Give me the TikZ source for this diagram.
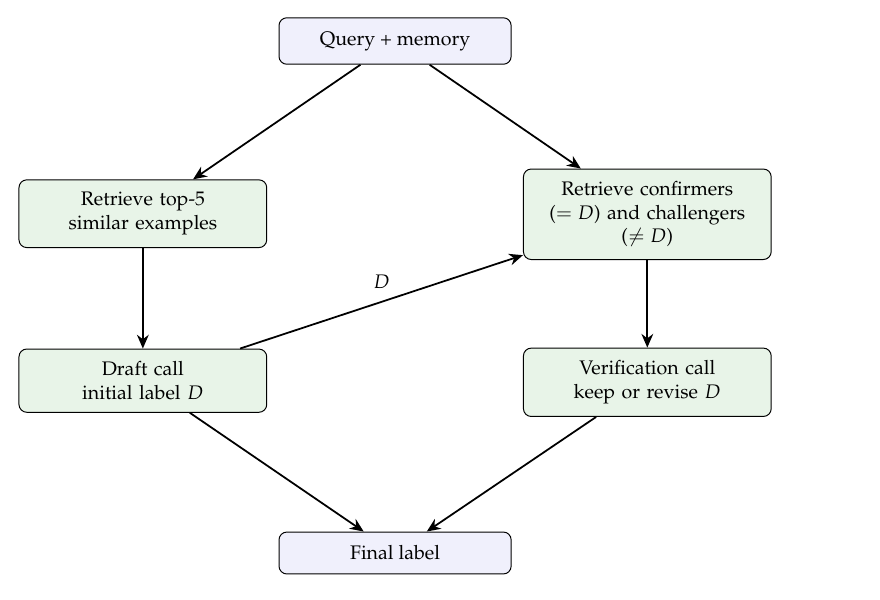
\documentclass[tikz,border=0pt]{standalone}
\usepackage[T1]{fontenc}
\usepackage{mathpazo}
\usetikzlibrary{positioning,arrows.meta}

\definecolor{iofill}{RGB}{240,240,252}
\definecolor{stepfill}{RGB}{232,244,232}

\begin{document}
\begin{tikzpicture}[
    iobox/.style={draw, line width=0.5pt, rounded corners=4pt, fill=iofill, minimum width=4.16cm, inner xsep=0.2cm, inner ysep=0.245cm, align=center},
    stepbox/.style={draw, line width=0.5pt, rounded corners=4pt, fill=stepfill, text width=4.04cm, inner xsep=0.2cm, inner ysep=0.225cm, align=center},
    flow/.style={-{Stealth[length=7pt,width=6pt]}, line width=0.9pt}
]
    \useasboundingbox (0,0) rectangle (15.77,-10.75);

    \node[iobox] (query) at (7.08,-0.735) {Query + memory};

    \node[stepbox] (topfive) at (2.56,-3.83) {Retrieve top-5\\similar examples};
    % boxed so the math glue does not stretch on the centred lines
    \node[stepbox] (confirm) at (11.6,-3.84) {Retrieve confirmers\\\mbox{($= D$)} and challengers\\\mbox{($\neq D$)}};

    \node[stepbox, below=1.8cm of topfive] (draft) {Draft call\\initial label $D$};
    \node[stepbox, below=1.57cm of confirm] (verify) {Verification call\\keep or revise $D$};

    \node[iobox] (final) at (7.08,-9.91) {Final label};

    % retrieval
    \draw[flow] (query) -- (topfive);
    \draw[flow] (query) -- (confirm);
    \draw[flow] (topfive) -- (draft);
    \draw[flow] (confirm) -- (verify);

    % draft label is passed on
    \draw[flow] (draft) -- node[midway, above=3pt] {$D$} (confirm);

    \draw[flow] (draft) -- (final);
    \draw[flow] (verify) -- (final);
\end{tikzpicture}
\end{document}
